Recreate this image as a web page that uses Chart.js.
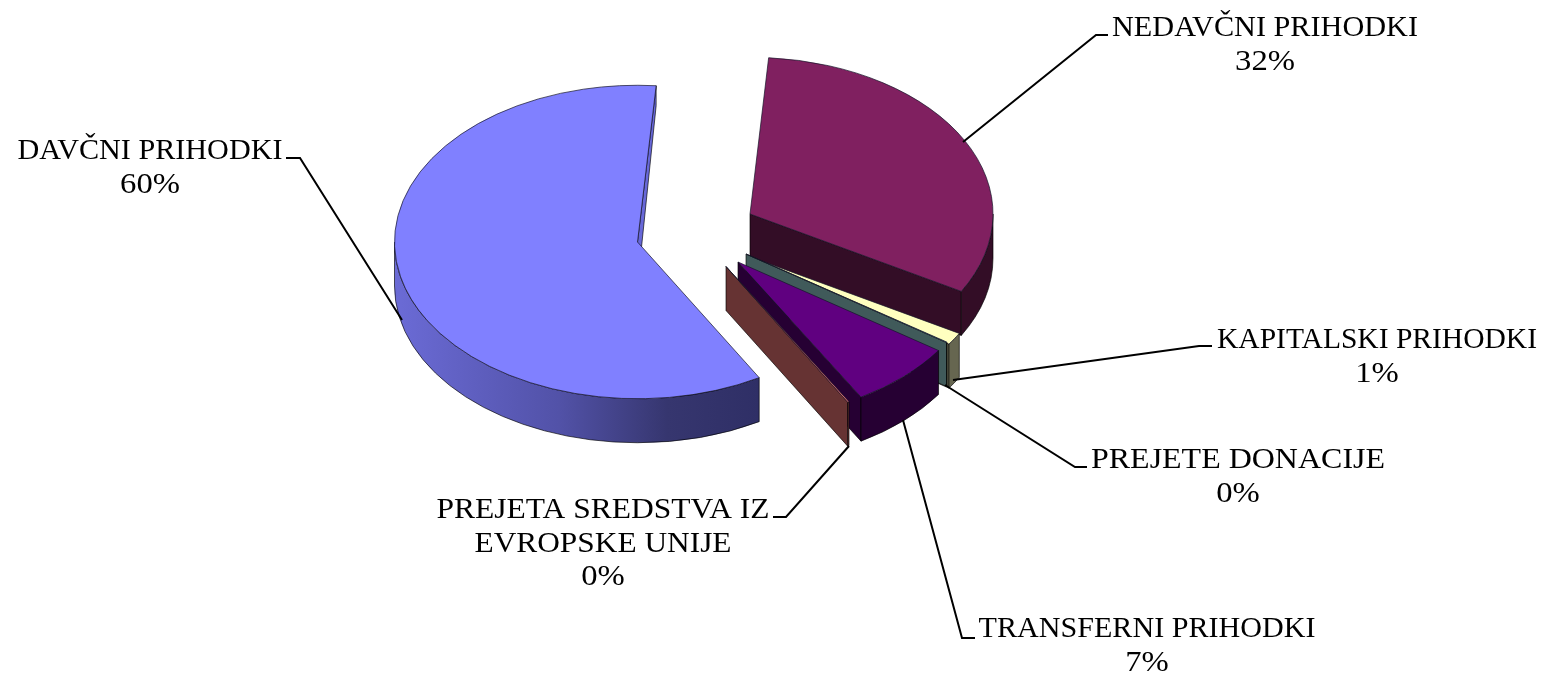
<!DOCTYPE html>
<html>
<head>
<meta charset="utf-8">
<style>
html,body{margin:0;padding:0;background:#fff;}
#wrap{position:relative;width:1552px;height:675px;overflow:hidden;}
</style>
<script src="https://cdn.jsdelivr.net/npm/chart.js@4/dist/chart.umd.min.js"></script>
</head>
<body>
<div id="wrap"><canvas id="c" width="1552" height="675"></canvas></div>
<script>
// Data
const categories = ['NEDAVČNI PRIHODKI','KAPITALSKI PRIHODKI','PREJETE DONACIJE','TRANSFERNI PRIHODKI','PREJETA SREDSTVA IZ EVROPSKE UNIJE','DAVČNI PRIHODKI'];
const values = [32, 1.28, 0.05, 7, 0.1, 59.57];
const topColors = ['#802060','#FFFFC0','#A0E0E0','#600080','#FF8080','#8080FF'];
const sideColors = ['#330D26','#666650','#405A5A','#260033','#663333','#6868D8'];

// Layout and style (pixels)
const RADIUS = 243, SQUASH = 0.645, DEPTH = 44;
const apexOffsets = [[66,-22.5],[64,19.5],[62,17.5],[54,25.5],[42,30],[-46.5,5.5]];
const rimDepth = [44,44,44,44,44,20];
const labelLines = [
  ['NEDAVČNI PRIHODKI'],['KAPITALSKI PRIHODKI'],['PREJETE DONACIJE'],['TRANSFERNI PRIHODKI'],
  ['PREJETA SREDSTVA IZ','EVROPSKE UNIJE'],['DAVČNI PRIHODKI']];
const labelWidths = [[306],[320],[294],[337],[333,257],[265]];
const labelCenters = [1265,1377,1238,1147,603,150];
const labelBaselines = [36,348,468,637,518,159];
const leaderPaths = [
  [[963,142],[1096,35],[1108,35]],
  [[953,380],[1199,346],[1212,346]],
  [[945,385],[1075,467],[1087,467]],
  [[903,420],[962,638],[975,638]],
  [[849,446],[786,517],[773,517]],
  [[402,320],[300,158],[286,158]]];
const LINE_GAP = 33.5, PCT_STRETCH = 1.09;
const FONT = '30px "Liberation Serif"';

function stretchedText(ctx, text, cx, y, width, stretch){
  const m = ctx.measureText(text).width;
  const k = width ? width / m : stretch;
  ctx.save();
  ctx.translate(cx, y);
  ctx.scale(k, 1);
  ctx.textAlign = 'center';
  ctx.textBaseline = 'alphabetic';
  ctx.fillText(text, 0, 0);
  ctx.restore();
}

const pie3d = {
  id: 'pie3d',
  beforeDatasetDraw(chart, args){
    const ctx = chart.ctx;
    const arcs = args.meta.data;
    arcs.forEach((el, i) => {
      const ax = el.x + apexOffsets[i][0], ay = el.y + apexOffsets[i][1];
      const r = el.outerRadius, ry = r * SQUASH;
      const s = el.startAngle, e = el.endAngle;
      ctx.save();
      ctx.lineWidth = 0.8;
      ctx.strokeStyle = 'rgba(0,0,0,0.8)';
      ctx.lineJoin = 'round';
      // radial end face
      const ox = ax + Math.cos(e) * r, oy = ay + Math.sin(e) * ry;
      ctx.fillStyle = sideColors[i];
      ctx.beginPath();
      ctx.moveTo(ax, ay);
      ctx.lineTo(ox, oy);
      ctx.lineTo(ox, oy + rimDepth[i]);
      ctx.lineTo(ax, ay + DEPTH);
      ctx.closePath();
      ctx.fill();
      ctx.stroke();
      // outer rim, front half only
      let fill = sideColors[i];
      if (i === 5) {
        const g = ctx.createLinearGradient(ax - r, 0, ax + 121, 0);
        g.addColorStop(0, '#6B6BD6');
        g.addColorStop(0.45, '#5252A8');
        g.addColorStop(0.75, '#36366F');
        g.addColorStop(1, '#2F2F66');
        fill = g;
      }
      for (let k = -1; k <= 1; k++) {
        const lo = Math.max(s, 2 * Math.PI * k), hi = Math.min(e, Math.PI + 2 * Math.PI * k);
        if (hi <= lo) continue;
        ctx.fillStyle = fill;
        ctx.beginPath();
        ctx.ellipse(ax, ay, r, ry, 0, lo, hi);
        ctx.ellipse(ax, ay + DEPTH, r, ry, 0, hi, lo, true);
        ctx.closePath();
        ctx.fill();
        ctx.stroke();
      }
      // top surface, drawn by the library's arc element
      ctx.translate(ax, ay);
      ctx.scale(1, SQUASH);
      ctx.translate(-el.x, -el.y);
      el.draw(ctx);
      ctx.restore();
    });
    return false;
  },
  afterDraw(chart){
    const ctx = chart.ctx;
    const total = values.reduce((a, b) => a + b, 0);
    ctx.save();
    ctx.strokeStyle = '#000';
    ctx.lineWidth = 2;
    ctx.lineJoin = 'miter';
    leaderPaths.forEach(p => {
      ctx.beginPath();
      p.forEach((q, j) => j ? ctx.lineTo(q[0], q[1]) : ctx.moveTo(q[0], q[1]));
      ctx.stroke();
    });
    ctx.fillStyle = '#000';
    ctx.font = FONT;
    categories.forEach((c, i) => {
      let y = labelBaselines[i];
      labelLines[i].forEach((t, j) => {
        stretchedText(ctx, t, labelCenters[i], y, labelWidths[i][j]);
        y += LINE_GAP;
      });
      stretchedText(ctx, Math.round(values[i] / total * 100) + '%', labelCenters[i], y, 0, PCT_STRETCH);
    });
    ctx.restore();
  }
};

new Chart(document.getElementById('c'), {
  type: 'pie',
  data: {
    labels: categories,
    datasets: [{
      data: values,
      backgroundColor: topColors,
      borderColor: 'rgba(20,20,40,0.85)',
      borderWidth: 1
    }]
  },
  options: {
    responsive: false,
    animation: false,
    rotation: 4.4,
    radius: RADIUS,
    events: [],
    layout: { padding: { left: 0, right: 184, top: 0, bottom: 202 } },
    plugins: { legend: { display: false }, tooltip: { enabled: false } }
  },
  plugins: [pie3d]
});
</script>
</body>
</html>
